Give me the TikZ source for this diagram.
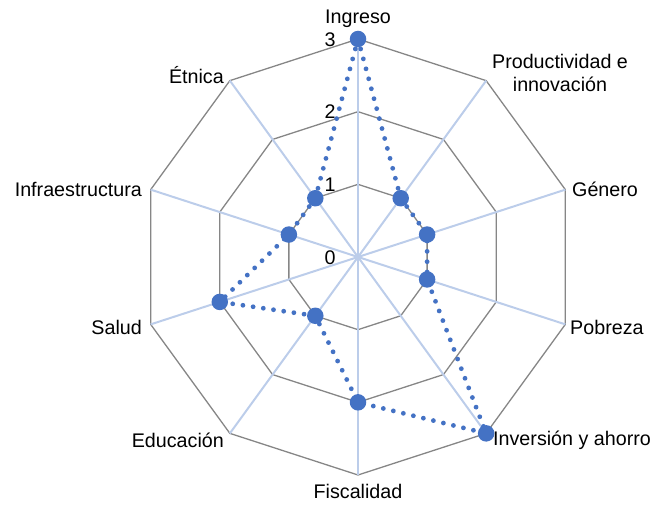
\documentclass[tikz,border=0pt]{standalone}
\usepackage{fontspec}
\setmainfont{Liberation Sans}
\definecolor{serblue}{HTML}{4472C4}
\definecolor{spokeblue}{HTML}{BCCDEA}
\definecolor{ringgray}{HTML}{868686}
\begin{document}
\begin{tikzpicture}[x=1pt,y=-1pt,
  ring/.style={draw=ringgray,line width=1.3pt},
  spoke/.style={draw=spokeblue,line width=2pt},
  series/.style={draw=serblue,line width=4.8pt,line cap=round,dash pattern=on 0pt off 10.3pt},
  marker/.style={circle,fill=serblue,inner sep=0pt,minimum size=16.5pt},
  lab/.style={font=\fontsize{19.7}{23}\selectfont,inner sep=0pt,text=black},
  ticklab/.style={font=\fontsize{19.7}{23}\selectfont,inner sep=0pt,text=black}]
\useasboundingbox (0,0) rectangle (652,505);
\def\cx{358}\def\cy{257}\def\unit{72.667}
\coordinate (c) at (\cx,\cy);
% grid vertices
\foreach \k in {1,2,3}{
  \foreach \i in {0,...,9}{
    \coordinate (g\k-\i) at ({\cx+\k*\unit*sin(36*\i)},{\cy-\k*\unit*cos(36*\i)});
  }
}
\foreach \k in {1,2,3}{
  \draw[ring] (g\k-0) -- (g\k-1) -- (g\k-2) -- (g\k-3) -- (g\k-4) -- (g\k-5) -- (g\k-6) -- (g\k-7) -- (g\k-8) -- (g\k-9) -- cycle;
}
\foreach \i in {0,...,9}{
  \draw[spoke] (c) -- (g3-\i);
}
% tick labels
\node[ticklab] (t3) at (330,40) {3};
\node[ticklab] (t2) at (330,112) {2};
\node[ticklab] (t1) at (330,185) {1};
\node[ticklab] (t0) at (330,258) {0};
% category labels
\node[lab,anchor=south] (l0) at (358,28) {Ingreso};
\node[lab,align=center] (l1) at (560,73) {Productividad e\\innovación};
\node[lab,anchor=west] (l2) at (572,189) {Género};
\node[lab,anchor=west] (l3) at (570,327) {Pobreza};
\node[lab,anchor=west] (l4) at (493,440) {Inversión y ahorro};
\node[lab,anchor=north] (l5) at (358,484) {Fiscalidad};
\node[lab,anchor=east] (l6) at (224,440) {Educación};
\node[lab,anchor=east] (l7) at (142,327) {Salud};
\node[lab,anchor=east] (l8) at (142,189) {Infraestructura};
\node[lab,anchor=east] (l9) at (224,75) {Étnica};
% data
\foreach \i/\v in {0/3,1/1,2/1,3/1,4/3,5/2,6/1,7/2,8/1,9/1}{
  \coordinate (p\i) at ({\cx+\v*\unit*sin(36*\i)},{\cy-\v*\unit*cos(36*\i)});
}
\draw[series] (p0) -- (p1) -- (p2) -- (p3) -- (p4) -- (p5) -- (p6) -- (p7) -- (p8) -- (p9) -- cycle;
\foreach \i in {0,...,9}{
  \node[marker] (m\i) at (p\i) {};
}
\end{tikzpicture}
\end{document}
